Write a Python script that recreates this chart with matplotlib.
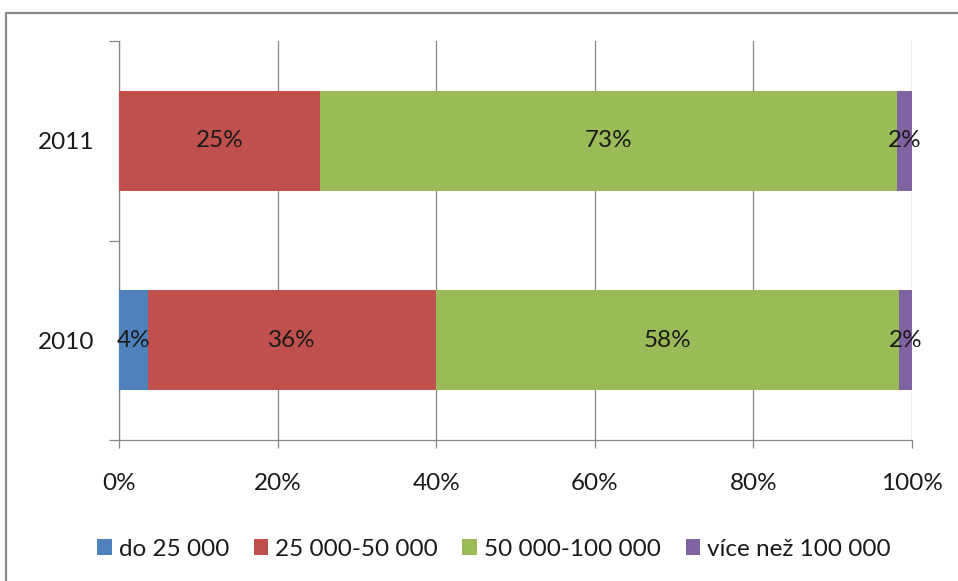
import matplotlib
matplotlib.use("Agg")
import matplotlib.pyplot as plt
from matplotlib.patches import Rectangle
from matplotlib.ticker import FixedLocator

plt.rcParams['font.family'] = ['Lato', 'DejaVu Sans']

years = ["2010", "2011"]
series_names = ["do 25 000", "25 000-50 000", "50 000-100 000", "více než 100 000"]
v_do25 = [3.6, 0.0]
v_25_50 = [36.4, 25.4]
v_50_100 = [58.3, 72.7]
v_100plus = [1.7, 1.9]
x_ticks = [0, 20, 40, 60, 80, 100]
x_tick_labels = ["0%", "20%", "40%", "60%", "80%", "100%"]

colors = ["#4F81BD", "#C0504D", "#9BBB59", "#8064A2"]
series = [v_do25, v_25_50, v_50_100, v_100plus]

W, H = 958, 581
fig = plt.figure(figsize=(W / 100, H / 100), dpi=100)
ax = fig.add_axes([119 / W, 1 - 440 / H, 793 / W, 399 / H])

fs = 17.5
gray = "#868686"
tc = "#1a1a1a"
ypos = list(range(len(years)))
left = [0.0] * len(years)
for name, vals, c in zip(series_names, series, colors):
    ax.barh(ypos, vals, left=left, height=0.5, color=c, label=name, zorder=3)
    for i, v in enumerate(vals):
        if v > 0:
            ax.text(left[i] + v / 2, ypos[i], f"{round(v):d}%", ha="center", va="center",
                    fontsize=fs, color=tc, zorder=4)
    left = [l + v for l, v in zip(left, vals)]

ax.set_xlim(0, 100)
ax.set_ylim(-0.5, 1.5)
ax.set_xticks(x_ticks)
ax.set_xticklabels(x_tick_labels, fontsize=fs, color=tc)
ax.xaxis.grid(True, color=gray, linewidth=0.9, zorder=0)
ax.set_axisbelow(True)

ax.yaxis.set_major_locator(FixedLocator([-0.5, 0.5, 1.5]))
ax.set_yticklabels([])
ax.yaxis.set_minor_locator(FixedLocator(ypos))
ax.set_yticklabels(years, minor=True, fontsize=fs, color=tc)
ax.tick_params(axis="y", which="major", length=7, color=gray, width=0.9)
ax.tick_params(axis="y", which="minor", length=0, pad=18)
ax.tick_params(axis="x", which="major", length=6, color=gray, width=0.9, pad=18)

for s in ["top", "right"]:
    ax.spines[s].set_visible(False)
for s in ["left", "bottom"]:
    ax.spines[s].set_color(gray)
    ax.spines[s].set_linewidth(0.9)

fig.patches.append(Rectangle((6 / W, -0.2), 1.5, (H - 13) / H + 0.2, transform=fig.transFigure,
                             fill=False, edgecolor="#8a8a8a", linewidth=1.6))

fig.legend(loc="center", bbox_to_anchor=(494 / W, 1 - 549 / H), ncol=4, frameon=False,
           fontsize=fs, handlelength=0.6, handleheight=0.6, handletextpad=0.3,
           columnspacing=1.0, labelcolor=tc)

fig.savefig("out.png", dpi=100)
